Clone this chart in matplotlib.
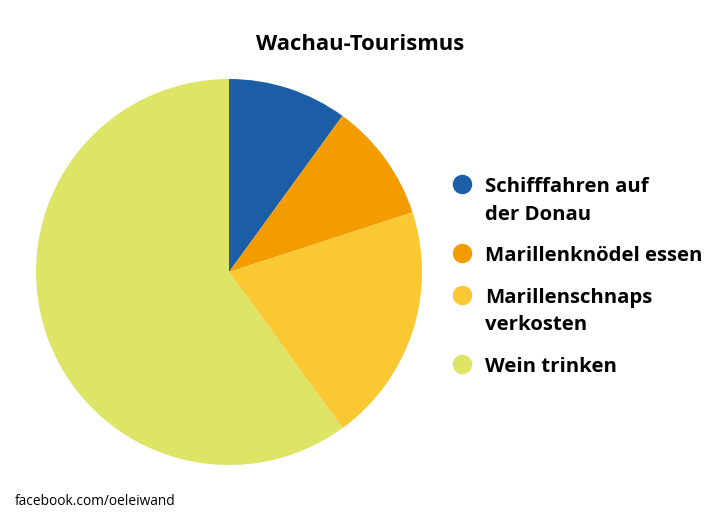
import matplotlib
matplotlib.use('Agg')
import matplotlib.pyplot as plt
from matplotlib.lines import Line2D

plt.rcParams['font.family'] = ['Open Sans', 'DejaVu Sans']

# data
labels = ['Schifffahren auf\nder Donau', 'Marillenknödel essen', 'Marillenschnaps\nverkosten', 'Wein trinken']
shares = [10, 10, 20, 60]
colors = ['#1b5ea7', '#f39c00', '#f9c833', '#dde466']

W, H = 720, 520
fig = plt.figure(figsize=(W / 100, H / 100), dpi=100)

# pie centre (229, 272) px, radius 193 px
cx, cy, r = 229, 272, 193
ax = fig.add_axes([(cx - r) / W, 1 - (cy + r) / H, 2 * r / W, 2 * r / H])
ax.pie(shares, colors=colors, startangle=90, counterclock=False,
       wedgeprops={'linewidth': 0})
ax.set_xlim(-1, 1)
ax.set_ylim(-1, 1)
ax.set_aspect('equal')
ax.axis('off')

def px(x, y):
    return x / W, 1 - y / H

fig.text(*px(360, 50), 'Wachau-Tourismus', ha='center', va='baseline',
         fontsize=15.8, fontweight='bold')

# legend drawn by hand so the marker sits on the first line
y = 192
for lab, col in zip(labels, colors):
    lines = lab.split('\n')
    mx, my = px(462, y - 8)
    fig.add_artist(Line2D([mx], [my], marker='o', markersize=13, color=col,
                          transform=fig.transFigure, linestyle='none'))
    for ln in lines:
        fig.text(*px(485, y), ln, ha='left', va='baseline', fontsize=14.7,
                 fontweight='bold')
        y += 27.5
    y += 14

fig.text(*px(15, 505), 'facebook.com/oeleiwand', ha='left', va='baseline',
         fontsize=9.9)

fig.savefig('out.png', dpi=100)
